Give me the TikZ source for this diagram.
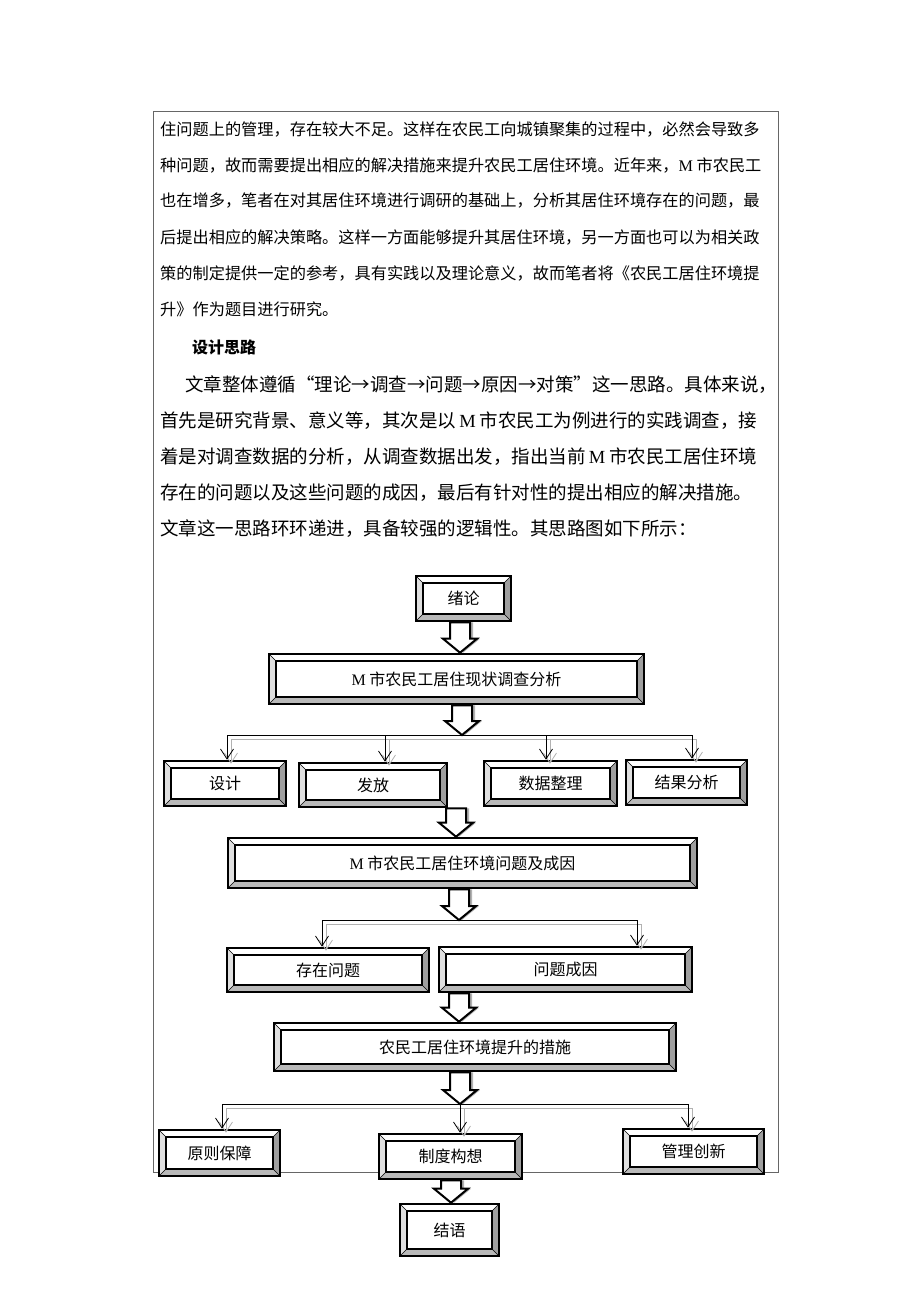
\documentclass[tikz,border=0pt]{standalone}
\usepackage{fontspec}
\newfontfamily\cjk{Noto Sans CJK SC}
\newfontfamily\latin{Liberation Serif}
\usetikzlibrary{calc, arrows.meta}
\tikzset{>={Straight Barb[length=10pt,width=13pt]}}
\newcommand{\M}{{\latin M}}
\def\bandw{7pt}

% bevelled frame inside each box
\newcommand{\bevelfill}{%
  \fill[gray!55] let \p1=(path picture bounding box.south west), \p2=(path picture bounding box.north east) in
    (\x1,\y1) -- (\x2,\y1) -- (\x2-\bandw,\y1+\bandw) -- (\x1+\bandw,\y1+\bandw) -- cycle;
  \fill[gray!75] let \p1=(path picture bounding box.south west), \p2=(path picture bounding box.north east) in
    (\x2,\y1) -- (\x2,\y2) -- (\x2-\bandw,\y2-\bandw) -- (\x2-\bandw,\y1+\bandw) -- cycle;
  \fill[gray!25] let \p1=(path picture bounding box.south west), \p2=(path picture bounding box.north east) in
    (\x1,\y1) -- (\x1,\y2) -- (\x1+\bandw,\y2-\bandw) -- (\x1+\bandw,\y1+\bandw) -- cycle;
  \draw[line width=0.5pt] let \p1=(path picture bounding box.south west), \p2=(path picture bounding box.north east) in
    (\x1,\y1) -- (\x1+\bandw,\y1+\bandw) (\x2,\y1) -- (\x2-\bandw,\y1+\bandw)
    (\x1,\y2) -- (\x1+\bandw,\y2-\bandw) (\x2,\y2) -- (\x2-\bandw,\y2-\bandw);
  \draw[line width=1.5pt, fill=white] let \p1=(path picture bounding box.south west), \p2=(path picture bounding box.north east) in
    (\x1+\bandw,\y1+\bandw) rectangle (\x2-\bandw,\y2-\bandw);
}

% hollow block arrow: x, from, to
\newcommand{\fatarrow}[3]{%
  \fill[gray!60, shift={(3pt,-3pt)}] let \p1=#2, \p2=#3 in
    (#1pt-10pt,\y1) -- (#1pt+10pt,\y1) -- (#1pt+10pt,\y2+14pt) -- (#1pt+17pt,\y2+14pt)
    -- (#1pt,\y2) -- (#1pt-17pt,\y2+14pt) -- (#1pt-10pt,\y2+14pt) -- cycle;
  \draw[line width=2pt, fill=white] let \p1=#2, \p2=#3 in
    (#1pt-10pt,\y1) -- (#1pt+10pt,\y1) -- (#1pt+10pt,\y2+14pt) -- (#1pt+17pt,\y2+14pt)
    -- (#1pt,\y2) -- (#1pt-17pt,\y2+14pt) -- (#1pt-10pt,\y2+14pt) -- cycle;
}

\tikzset{
  framebox/.style={draw, line width=2.6pt, fill=white, inner sep=0pt,
    font=\cjk\fontsize{16}{18}\selectfont, path picture={\bevelfill}},
  bodyline/.style={anchor=west, inner sep=0pt, font=\cjk\fontsize{16.2}{16.2}\selectfont},
  bigline/.style={anchor=west, inner sep=0pt, font=\cjk\fontsize{18.5}{18.5}\selectfont},
  framerule/.style={draw=gray!80!black, line width=0.8pt},
  branch/.style={line width=0.8pt},
}

\begin{document}
\begin{tikzpicture}[x=1pt, y=-1pt]
    \useasboundingbox (0,0) rectangle (920,1302);
    \draw[framerule] (153,111) rectangle (778,1172);

    % running text
    \node[bodyline] (t1) at (160,129) {住问题上的管理，存在较大不足。这样在农民工向城镇聚集的过程中，必然会导致多};
    \node[bodyline] (t2) at (160,165) {种问题，故而需要提出相应的解决措施来提升农民工居住环境。近年来，\M\ 市农民工};
    \node[bodyline] (t3) at (160,201) {也在增多，笔者在对其居住环境进行调研的基础上，分析其居住环境存在的问题，最};
    \node[bodyline] (t4) at (160,237) {后提出相应的解决策略。这样一方面能够提升其居住环境，另一方面也可以为相关政};
    \node[bodyline] (t5) at (160,273) {策的制定提供一定的参考，具有实践以及理论意义，故而笔者将《农民工居住环境提};
    \node[bodyline] (t6) at (160,309) {升》作为题目进行研究。};
    \node[bodyline, font=\cjk\bfseries\fontsize{16}{16}\selectfont] (head) at (192,347) {设计思路};
    \node[bigline] (u1) at (185,385) {文章整体遵循“理论→调查→问题→原因→对策”这一思路。具体来说，};
    \node[bigline] (u2) at (160,421) {首先是研究背景、意义等，其次是以\,\M\ 市农民工为例进行的实践调查，接};
    \node[bigline] (u3) at (160,457) {着是对调查数据的分析，从调查数据出发，指出当前\,\M\ 市农民工居住环境};
    \node[bigline] (u4) at (160,493) {存在的问题以及这些问题的成因，最后有针对性的提出相应的解决措施。};
    \node[bigline] (u5) at (160,529) {文章这一思路环环递进，具备较强的逻辑性。其思路图如下所示：};

    % boxes
    \node[framebox, minimum width=95pt, minimum height=45pt] (intro) at (463.5,598.5) {绪论};
    \node[framebox, minimum width=375pt, minimum height=50pt] (survey) at (456.5,679) {\M\ 市农民工居住现状调查分析};
    \node[framebox, minimum width=122pt, minimum height=45pt] (design) at (225,783.5) {设计};
    \node[framebox, minimum width=148pt, minimum height=44pt] (issue) at (373,785) {发放};
    \node[framebox, minimum width=133pt, minimum height=45pt] (data) at (550.5,783.5) {数据整理};
    \node[framebox, minimum width=121pt, minimum height=45pt] (result) at (686.5,782.5) {结果分析};
    \node[framebox, minimum width=469pt, minimum height=50pt] (cause) at (462.5,863) {\M\ 市农民工居住环境问题及成因};
    \node[framebox, minimum width=202pt, minimum height=44pt] (exist) at (328,970) {存在问题};
    \node[framebox, minimum width=253pt, minimum height=45pt] (reason) at (565.5,969.5) {问题成因};
    \node[framebox, minimum width=402pt, minimum height=48pt] (measure) at (475,1047) {农民工居住环境提升的措施};
    \node[framebox, minimum width=121pt, minimum height=46pt] (principle) at (219.5,1153) {原则保障};
    \node[framebox, minimum width=143pt, minimum height=45pt] (system) at (450.5,1156.5) {制度构想};
    \node[framebox, minimum width=141pt, minimum height=45pt] (manage) at (693.5,1151.5) {管理创新};
    \node[framebox, minimum width=99pt, minimum height=52pt] (ending) at (449.5,1230) {结语};

    % branch points
    \coordinate (b1) at (462,735);
    \coordinate (d11) at (227,735);
    \coordinate (d12) at (385,735);
    \coordinate (d13) at (546,735);
    \coordinate (d14) at (692,735);
    \coordinate (b2) at (459,920);
    \coordinate (d21) at (322,920);
    \coordinate (d22) at (637,920);
    \coordinate (b3) at (460,1104);
    \coordinate (d31) at (222,1104);
    \coordinate (d32) at (460,1104);
    \coordinate (d33) at (688,1104);

    \foreach \col/\dx in {gray!60/4pt, black/0pt} {
      \begin{scope}[draw=\col, branch, transform canvas={shift={(\dx,-\dx)}}]
        \draw (d11) -- (d14);
        \draw[->] (d11) -- (d11 |- design.north);
        \draw[->] (d12) -- (d12 |- issue.north);
        \draw[->] (d13) -- (d13 |- data.north);
        \draw[->] (d14) -- (d14 |- result.north);
        \draw (d21) -- (d22);
        \draw[->] (d21) -- (d21 |- exist.north);
        \draw[->] (d22) -- (d22 |- reason.north);
        \draw (d31) -- (d33);
        \draw[->] (d31) -- (d31 |- principle.north);
        \draw[->] (d32) -- (d32 |- system.north);
        \draw[->] (d33) -- (d33 |- manage.north);
      \end{scope}
    }

    % block arrows
    \fatarrow{460}{(intro.south)}{(survey.north)}
    \fatarrow{462}{(survey.south)}{(b1)}
    \fatarrow{456}{(issue.south)}{(cause.north)}
    \fatarrow{459}{(cause.south)}{(b2)}
    \fatarrow{459}{(exist.south)}{(measure.north)}
    \fatarrow{460}{(measure.south)}{(b3)}
    \fatarrow{451}{(system.south)}{(ending.north)}
\end{tikzpicture}
\end{document}
